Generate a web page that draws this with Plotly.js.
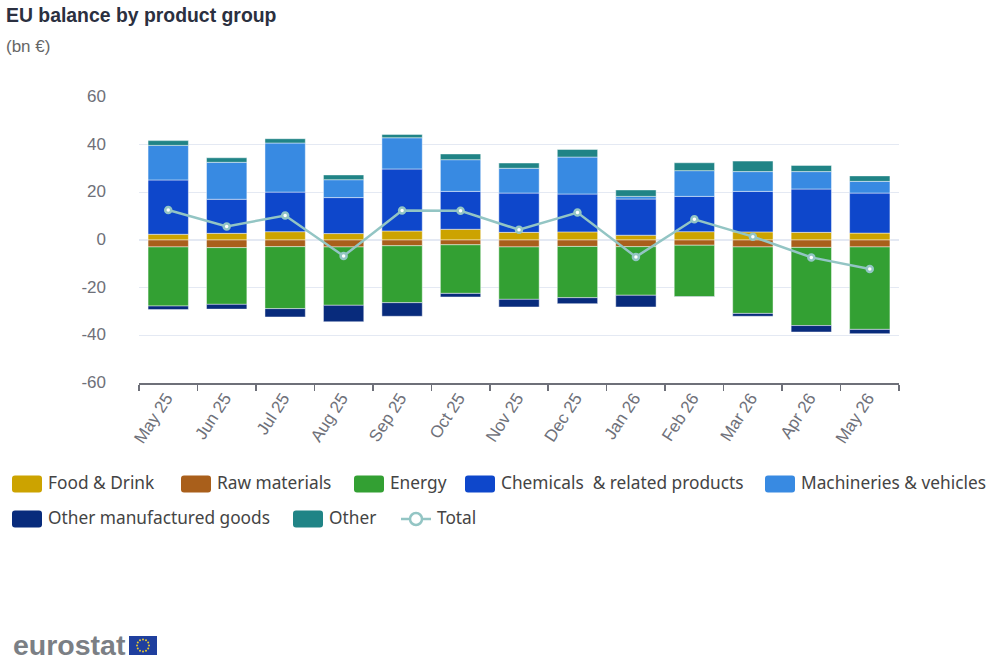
<!DOCTYPE html>
<html><head><meta charset="utf-8">
<script src="https://cdn.plot.ly/plotly-3.0.1.min.js"></script>
<style>html,body{margin:0;padding:0;background:#fff}#c{width:1000px;height:668px}</style>
</head><body><div id="c"></div>
<script>
const months=["May 25","Jun 25","Jul 25","Aug 25","Sep 25","Oct 25","Nov 25","Dec 25","Jan 26","Feb 26","Mar 26","Apr 26","May 26"];
const food=[2.4,2.8,3.5,2.7,3.8,4.5,3.2,3.4,2.0,3.5,3.4,3.2,2.9];
const raw=[-2.9,-3.2,-2.8,-2.9,-2.4,-2.0,-2.9,-2.7,-2.8,-2.2,-2.9,-3.1,-2.9];
const energy=[-24.8,-23.8,-26.0,-24.5,-23.9,-20.4,-22.0,-21.5,-20.4,-21.6,-27.9,-32.8,-34.6];
const chemicals=[22.8,14.3,16.6,15.1,26.0,15.9,16.5,15.9,15.2,14.8,17.0,18.2,16.8];
const machinery=[14.5,15.5,20.6,7.5,13.1,13.3,10.4,15.5,1.1,10.8,8.3,7.3,4.9];
const otherManufactured=[-1.5,-2.0,-3.5,-6.9,-5.7,-1.5,-3.2,-2.5,-4.9,-0.1,-1.2,-2.7,-1.8];
const other=[2.0,1.9,1.8,2.0,1.4,2.4,2.2,3.2,2.7,3.3,4.4,2.6,2.3];
const total=[12.6,5.7,10.3,-6.7,12.4,12.3,4.3,11.5,-7.1,8.7,1.4,-7.3,-12.2];
const yTicks=[-60,-40,-20,0,20,40,60];
const names=["Food & Drink","Raw materials","Energy","Chemicals  & related products","Machineries & vehicles","Other manufactured goods","Other","Total"];
const colors=["#CCA300","#A95F1B","#33A033","#0E47CB","#388AE2","#082B7C","#208486","#93C5C4"];
const series=[food,raw,energy,chemicals,machinery,otherManufactured,other];

const W=1000,H=668,L=139,R=101,T=97,B=285;
const px=x=>(x-L)/(W-L-R), py=y=>(H-B-y)/(H-T-B);
const legendRows=[[12,181,354,465,765],[12,293,401]];
const legendY=[484,519];

const traces=series.map((v,i)=>({type:"bar",name:names[i],x:months,y:v,
  marker:{color:colors[i],line:{color:"rgba(255,255,255,0.45)",width:1}},showlegend:false}));
traces.push({type:"scatter",mode:"lines+markers",name:names[7],x:months,y:total,showlegend:false,
  line:{color:colors[7],width:2.5},
  marker:{symbol:"circle",size:6,color:"#fff",line:{color:colors[7],width:2.5}}});

const shapes=[],annotations=[];
let idx=0;
legendRows.forEach((row,r)=>row.forEach(x0=>{
  const c=colors[idx],y=legendY[r];
  if(idx<7){
    const x1=x0+30,t=y-8.5,b=y+8.5,k=3;
    const X=v=>px(v),Y=v=>py(v);
    shapes.push({type:"path",xref:"paper",yref:"paper",fillcolor:c,line:{width:0},
      path:`M${X(x0+k)},${Y(t)}L${X(x1-k)},${Y(t)}Q${X(x1)},${Y(t)} ${X(x1)},${Y(t+k)}L${X(x1)},${Y(b-k)}Q${X(x1)},${Y(b)} ${X(x1-k)},${Y(b)}L${X(x0+k)},${Y(b)}Q${X(x0)},${Y(b)} ${X(x0)},${Y(b-k)}L${X(x0)},${Y(t+k)}Q${X(x0)},${Y(t)} ${X(x0+k)},${Y(t)}Z`});
  }else{
    shapes.push({type:"line",xref:"paper",yref:"paper",x0:px(x0),x1:px(x0+30),y0:py(y),y1:py(y),line:{color:c,width:2.5}});
    shapes.push({type:"circle",xref:"paper",yref:"paper",x0:px(x0+9),x1:px(x0+21),y0:py(y-6),y1:py(y+6),fillcolor:"#fff",line:{color:c,width:2.5}});
  }
  annotations.push({xref:"paper",yref:"paper",x:px(x0+33.8),y:py(y-2),xanchor:"left",yanchor:"middle",showarrow:false,
    text:names[idx],font:{family:"Noto Sans",size:17.3,color:"#444"}});
  idx++;
}));
annotations.push({xref:"paper",yref:"paper",x:px(4),y:py(46),xanchor:"left",yanchor:"middle",showarrow:false,
  text:"(bn €)",font:{family:"Liberation Sans",size:17,color:"#666"}});
annotations.push({xref:"paper",yref:"paper",x:px(11),y:py(645),xanchor:"left",yanchor:"middle",showarrow:false,
  text:"<b>eurostat</b>",font:{family:"Liberation Sans",size:28.5,color:"#7b7f85"}});
shapes.push({type:"rect",xref:"paper",yref:"paper",x0:px(129),x1:px(157),y0:py(636),y1:py(655),fillcolor:"#1f3f9e",line:{width:0}});
for(let i=0;i<12;i++){
  const a=i*Math.PI/6,cx=143+6*Math.cos(a),cy=645.5+6*Math.sin(a);
  shapes.push({type:"circle",xref:"paper",yref:"paper",x0:px(cx-1),x1:px(cx+1),y0:py(cy-1),y1:py(cy+1),fillcolor:"#e8c930",line:{width:0}});
}

const layout={width:W,height:H,barmode:"relative",bargap:0.31,showlegend:false,
  paper_bgcolor:"#fff",plot_bgcolor:"#fff",
  margin:{l:L,r:R,t:T,b:B,pad:0},
  title:{text:"<b>EU balance by product group</b>",x:6/W,xanchor:"left",xref:"container",y:1-15/H,yanchor:"middle",yref:"container",
    font:{family:"Liberation Sans",size:19.4,color:"#2b3040"}},
  xaxis:{type:"category",range:[-0.5,12.5],tickson:"boundaries",ticks:"outside",ticklen:6,tickcolor:"#6e7079",tickwidth:1.5,
    showline:true,linecolor:"#6e7079",linewidth:1.5,showgrid:false,tickangle:-57,ticklabelstandoff:-3,ticklabelshift:-2,
    tickfont:{family:"Liberation Sans",size:17,color:"#6e7079"}},
  yaxis:{range:[-60,60],tickvals:yTicks,ticktext:yTicks.map(String),ticks:"",showline:false,zeroline:false,
    gridcolor:"#e4e9f3",gridwidth:1.5,ticklabelstandoff:32,ticklabelshift:-1,
    tickfont:{family:"Liberation Sans",size:17,color:"#6e7079"}},
  shapes,annotations};
Plotly.newPlot("c",traces,layout,{displayModeBar:false,staticPlot:true});
</script></body></html>
